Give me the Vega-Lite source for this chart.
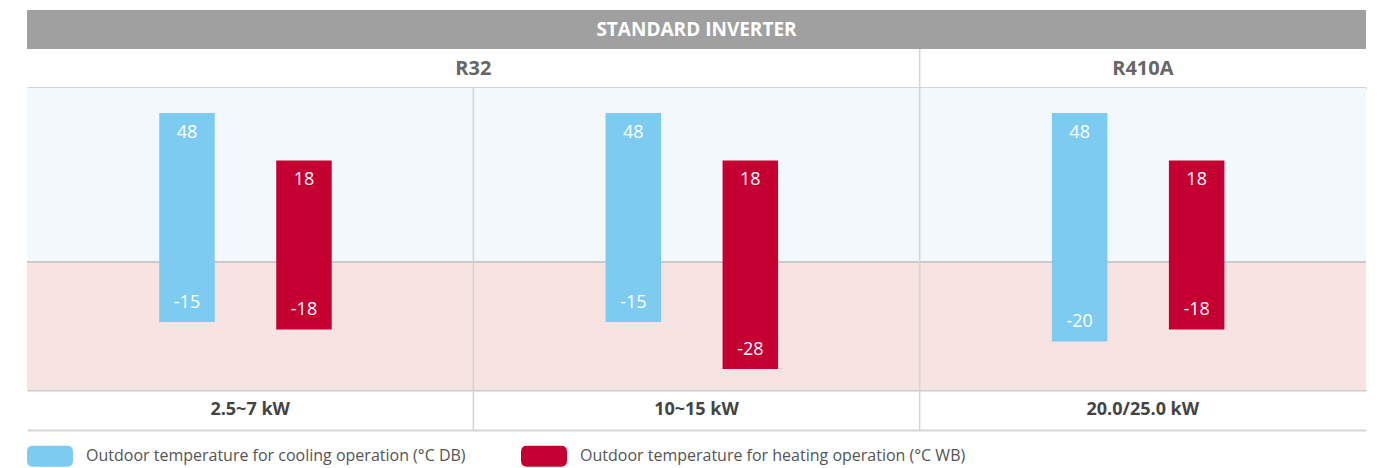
{
  "$schema": "https://vega.github.io/schema/vega-lite/v6.json",
  "padding": {"left": 26, "top": 10, "right": 17, "bottom": 0},
  "spacing": 0,
  "bounds": "flush",
  "config": {"view": {"stroke": null}, "font": "Open Sans"},
  "datasets": {
    "groups": [
      {"capacity": "2.5~7 kW", "refrigerant": "R32"},
      {"capacity": "10~15 kW", "refrigerant": "R32"},
      {"capacity": "20.0/25.0 kW", "refrigerant": "R410A"}
    ],
    "refrigerants": [
      {"refrigerant": "R32", "anchor": "10~15 kW"},
      {"refrigerant": "R410A", "anchor": "20.0/25.0 kW"}
    ],
    "ranges": [
      {"capacity": "2.5~7 kW", "mode": "Outdoor temperature for cooling operation (°C DB)", "min": -15, "max": 48},
      {"capacity": "2.5~7 kW", "mode": "Outdoor temperature for heating operation (°C WB)", "min": -18, "max": 18},
      {"capacity": "10~15 kW", "mode": "Outdoor temperature for cooling operation (°C DB)", "min": -15, "max": 48},
      {"capacity": "10~15 kW", "mode": "Outdoor temperature for heating operation (°C WB)", "min": -28, "max": 18},
      {"capacity": "20.0/25.0 kW", "mode": "Outdoor temperature for cooling operation (°C DB)", "min": -20, "max": 48},
      {"capacity": "20.0/25.0 kW", "mode": "Outdoor temperature for heating operation (°C WB)", "min": -18, "max": 18}
    ],
    "zones": [
      {"zone": "above", "lo": 0, "hi": 56},
      {"zone": "below", "lo": -33.5, "hi": 0}
    ]
  },
  "vconcat": [
    {
      "width": 1339,
      "height": 39,
      "view": {"fill": "#a0a0a0", "stroke": null},
      "data": {"values": [{"title": "STANDARD INVERTER"}]},
      "mark": {"type": "text", "color": "#ffffff", "fontWeight": "bold", "fontSize": 19, "baseline": "middle"},
      "encoding": {"text": {"field": "title"}}
    },
    {
      "width": 1339,
      "height": 39,
      "data": {"name": "refrigerants"},
      "layer": [
        {
          "transform": [{"filter": "datum.refrigerant == 'R32'"}],
          "mark": {"type": "text", "color": "#666666", "fontWeight": "bold", "fontSize": 20, "baseline": "middle"},
          "encoding": {
            "x": {"field": "anchor", "type": "nominal", "bandPosition": 0,
                  "scale": {"type": "band", "domain": ["2.5~7 kW", "10~15 kW", "20.0/25.0 kW"], "paddingInner": 0, "paddingOuter": 0},
                  "axis": {"labels": false, "ticks": false, "title": null, "grid": false, "domainColor": "#aaaaaa", "domainWidth": 2}},
            "text": {"field": "refrigerant"}
          }
        },
        {
          "transform": [{"filter": "datum.refrigerant == 'R410A'"}],
          "mark": {"type": "text", "color": "#666666", "fontWeight": "bold", "fontSize": 20, "baseline": "middle"},
          "encoding": {
            "x": {"field": "anchor", "type": "nominal", "bandPosition": 0.5},
            "text": {"field": "refrigerant"}
          }
        },
        {
          "transform": [{"filter": "datum.refrigerant == 'R410A'"}],
          "mark": {"type": "rule", "color": "#d4d4d4", "strokeWidth": 1.5},
          "encoding": {
            "x": {"field": "anchor", "type": "nominal", "bandPosition": 0}
          }
        }
      ]
    },
    {
      "width": 1339,
      "height": 302,
      "layer": [
        {
          "data": {"name": "zones"},
          "transform": [{"filter": "datum.zone == 'above'"}],
          "mark": {"type": "rect", "fill": "#f3f8fc"},
          "encoding": {
            "y": {"field": "lo", "type": "quantitative",
                  "scale": {"domain": [-33.5, -28, -20, -18, -15, 0, 18, 48, 56], "range": [302, 281, 253.5, 241.5, 234, 174, 72.5, 25, 0], "zero": false, "nice": false},
                  "axis": null},
            "y2": {"field": "hi"}
          }
        },
        {
          "data": {"name": "zones"},
          "transform": [{"filter": "datum.zone == 'below'"}],
          "mark": {"type": "rect", "fill": "#f7e3e2"},
          "encoding": {
            "y": {"field": "lo", "type": "quantitative"},
            "y2": {"field": "hi"}
          }
        },
        {
          "data": {"name": "zones"},
          "transform": [{"filter": "datum.zone == 'above'"}],
          "mark": {"type": "rule", "color": "#c9c9cf", "strokeWidth": 2},
          "encoding": {
            "y": {"field": "lo", "type": "quantitative"}
          }
        },
        {
          "data": {"name": "groups"},
          "transform": [{"filter": "datum.capacity != '2.5~7 kW'"}],
          "mark": {"type": "rule", "color": "#d4d4d4", "strokeWidth": 1.5},
          "encoding": {
            "x": {"field": "capacity", "type": "nominal", "bandPosition": 0,
                  "scale": {"type": "band", "domain": ["2.5~7 kW", "10~15 kW", "20.0/25.0 kW"], "paddingInner": 0, "paddingOuter": 0},
                  "axis": {"labels": false, "ticks": false, "title": null, "grid": false, "domainColor": "#cccccc", "domainWidth": 2}}
          }
        },
        {
          "data": {"name": "ranges"},
          "mark": {"type": "bar", "width": 55.5},
          "encoding": {
            "x": {"field": "capacity", "type": "nominal"},
            "xOffset": {"field": "mode", "type": "nominal", "scale": {"paddingInner": 0.185, "paddingOuter": 1, "align": 0.48}},
            "y": {"field": "min", "type": "quantitative"},
            "y2": {"field": "max"},
            "color": {
              "field": "mode", "type": "nominal",
              "scale": {"domain": ["Outdoor temperature for cooling operation (°C DB)", "Outdoor temperature for heating operation (°C WB)"], "range": ["#7ecbf1", "#c40033"]},
              "legend": {
                "orient": "bottom", "direction": "horizontal", "title": null,
                "labelFontSize": 16, "labelColor": "#555555", "labelFont": "Open Sans", "labelLimit": 600,
                "symbolType": "M -0.74,-0.4565 L 0.74,-0.4565 Q 1,-0.4565 1,-0.2 L 1,0.2 Q 1,0.4565 0.74,0.4565 L -0.74,0.4565 Q -1,0.4565 -1,0.2 L -1,-0.2 Q -1,-0.4565 -0.74,-0.4565 Z",
                "symbolSize": 2116, "symbolStrokeWidth": 0, "symbolOpacity": 1,
                "labelOffset": 13, "columnPadding": 55, "offset": 2, "padding": 0
              }
            }
          }
        },
        {
          "data": {"name": "ranges"},
          "mark": {"type": "text", "color": "#ffffff", "fontSize": 18, "baseline": "middle", "dy": 19.5},
          "encoding": {
            "x": {"field": "capacity", "type": "nominal"},
            "xOffset": {"field": "mode", "type": "nominal"},
            "y": {"field": "max", "type": "quantitative"},
            "text": {"field": "max", "type": "nominal"}
          }
        },
        {
          "data": {"name": "ranges"},
          "mark": {"type": "text", "color": "#ffffff", "fontSize": 18, "baseline": "middle", "dy": -19.5},
          "encoding": {
            "x": {"field": "capacity", "type": "nominal"},
            "xOffset": {"field": "mode", "type": "nominal"},
            "y": {"field": "min", "type": "quantitative"},
            "text": {"field": "min", "type": "nominal"}
          }
        }
      ]
    },
    {
      "width": 1339,
      "height": 40,
      "data": {"name": "groups"},
      "layer": [
        {
          "mark": {"type": "text", "color": "#444444", "fontWeight": "bold", "fontSize": 18, "baseline": "middle"},
          "encoding": {
            "x": {"field": "capacity", "type": "nominal", "bandPosition": 0.5,
                  "scale": {"type": "band", "domain": ["2.5~7 kW", "10~15 kW", "20.0/25.0 kW"], "paddingInner": 0, "paddingOuter": 0},
                  "axis": {"labels": false, "ticks": false, "title": null, "grid": false, "domainColor": "#d6d6d6", "domainWidth": 2}},
            "text": {"field": "capacity"}
          }
        },
        {
          "transform": [{"filter": "datum.capacity != '2.5~7 kW'"}],
          "mark": {"type": "rule", "color": "#d4d4d4", "strokeWidth": 1.5},
          "encoding": {
            "x": {"field": "capacity", "type": "nominal", "bandPosition": 0}
          }
        }
      ]
    }
  ]
}
